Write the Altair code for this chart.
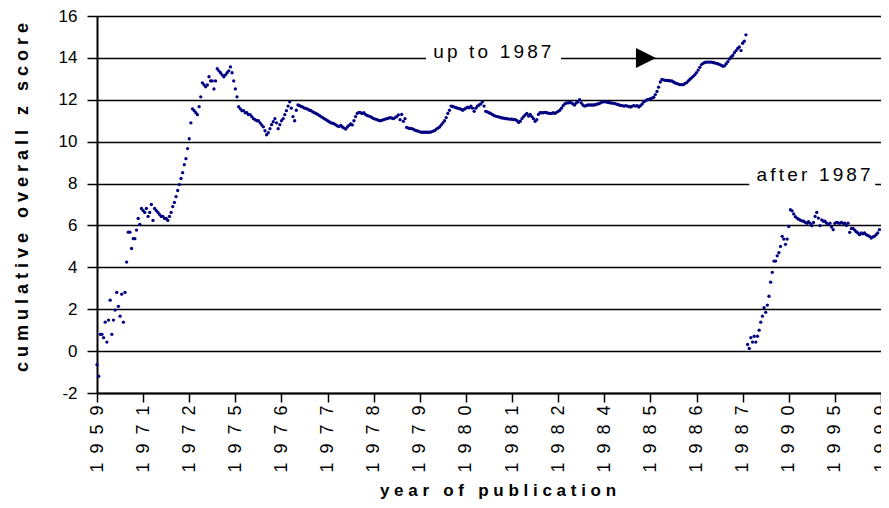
import altair as alt
import pandas as pd

# ---------------- data ----------------
up_to_1987 = [
    -0.65, -1.2, 0.8, 0.8, 0.64, 1.38, 0.43, 1.48, 2.43, 0.8, 1.48, 1.96, 2.8, 2.14,
    1.67, 2.72, 1.38, 2.8, 4.25, 5.68, 5.68, 4.9, 5.37, 5.37, 5.78, 6.33, 6.05, 6.81,
    6.71, 6.62, 6.81, 6.43, 6.62, 7.0, 6.24, 6.81, 6.71, 6.62, 6.52, 6.43, 6.43, 6.33,
    6.33, 6.24, 6.43, 6.62, 6.9, 7.1, 7.38, 7.67, 7.95, 8.24, 8.52, 8.9, 9.19, 9.67,
    10.14, 10.9, 11.57, 11.48, 11.38, 11.29, 11.67, 12.14, 12.81, 12.71, 12.62, 12.71, 13.1, 12.9,
    12.9, 12.52, 12.9, 13.48, 13.38, 13.29, 13.19, 13.1, 13.19, 13.29, 13.38, 13.57, 13.29, 12.9,
    12.52, 12.14, 11.67, 11.57, 11.48, 11.48, 11.38, 11.38, 11.29, 11.29, 11.19, 11.1, 11.05, 11.0,
    11.0, 10.9, 10.8, 10.71, 10.52, 10.33, 10.43, 10.62, 10.81, 10.95, 11.1, 10.9, 10.62, 10.81,
    11.0, 11.1, 11.29, 11.48, 11.7, 11.9, 11.6, 11.2, 11.0, 11.5, 11.75, 11.72, 11.68, 11.65,
    11.6, 11.58, 11.55, 11.5, 11.48, 11.42, 11.38, 11.35, 11.3, 11.25, 11.2, 11.15, 11.1, 11.05,
    11.0, 10.95, 10.9, 10.88, 10.85, 10.8, 10.75, 10.72, 10.78, 10.7, 10.65, 10.6, 10.7, 10.78,
    10.85, 10.8, 11.0, 11.2, 11.35, 11.4, 11.38, 11.35, 11.38, 11.3, 11.25, 11.22, 11.2, 11.15,
    11.1, 11.08, 11.05, 11.02, 11.0, 11.02, 11.05, 11.08, 11.1, 11.12, 11.15, 11.12, 11.1, 11.15,
    11.2, 11.28, 11.05, 11.3, 10.97, 11.1, 10.68, 10.65, 10.63, 10.62, 10.6, 10.55, 10.52, 10.5,
    10.47, 10.45, 10.45, 10.45, 10.45, 10.45, 10.45, 10.47, 10.5, 10.53, 10.6, 10.65, 10.7, 10.8,
    10.9, 11.0, 11.15, 11.35, 11.5, 11.7, 11.68, 11.65, 11.62, 11.6, 11.58, 11.55, 11.5, 11.55,
    11.6, 11.65, 11.62, 11.7, 11.6, 11.45, 11.6, 11.7, 11.75, 11.8, 11.9, 11.7, 11.45, 11.42,
    11.38, 11.35, 11.3, 11.25, 11.22, 11.2, 11.18, 11.15, 11.13, 11.12, 11.1, 11.1, 11.08, 11.08,
    11.07, 11.05, 11.05, 11.0, 10.92, 10.98, 11.1, 11.2, 11.28, 11.35, 11.22, 11.3, 11.2, 11.1,
    10.97, 11.05, 11.3, 11.38, 11.38, 11.38, 11.4, 11.38, 11.36, 11.35, 11.35, 11.38, 11.35, 11.4,
    11.45, 11.5, 11.6, 11.72, 11.8, 11.85, 11.85, 11.88, 11.85, 11.8, 11.75, 11.85, 11.9, 12.0,
    11.85, 11.75, 11.7, 11.72, 11.75, 11.75, 11.75, 11.75, 11.75, 11.78, 11.8, 11.82, 11.86, 11.9,
    11.9, 11.9, 11.88, 11.86, 11.85, 11.84, 11.83, 11.8, 11.78, 11.75, 11.73, 11.72, 11.7, 11.72,
    11.7, 11.68, 11.65, 11.7, 11.72, 11.7, 11.72, 11.65, 11.72, 11.8, 11.9, 11.95, 12.0, 12.02,
    12.05, 12.08, 12.12, 12.25, 12.4, 12.6, 12.85, 12.97, 12.95, 12.93, 12.92, 12.92, 12.9, 12.9,
    12.85, 12.8, 12.78, 12.75, 12.72, 12.72, 12.72, 12.78, 12.82, 12.9, 12.98, 13.05, 13.12, 13.2,
    13.3, 13.42, 13.55, 13.68, 13.74, 13.78, 13.8, 13.8, 13.8, 13.8, 13.78, 13.76, 13.74, 13.72,
    13.68, 13.65, 13.6, 13.62, 13.72, 13.82, 13.95, 14.05, 14.12, 14.25, 14.35, 14.45, 14.52, 14.35,
    14.7, 14.8, 15.1,
]

after_1987 = [
    0.32, 0.13, 0.64, 0.43, 0.71, 0.43, 0.71, 1.0, 1.38, 1.67, 2.07, 1.85, 2.2, 2.62,
    3.29, 3.76, 4.3, 4.3, 4.55, 4.7, 5.0, 5.48, 5.35, 5.1, 5.35, 5.95, 6.75,
    6.7, 6.55, 6.42, 6.35, 6.3, 6.25, 6.22, 6.2, 6.15, 6.1, 6.18, 6.1, 5.99, 6.14,
    6.43, 6.62, 6.35, 5.99, 6.27, 6.2, 6.2, 6.11, 6.04, 6.11, 5.92, 5.8,
    6.1, 6.15, 6.12, 6.1, 6.15, 6.1, 6.11, 6.0, 6.11, 5.67, 5.85, 5.86, 5.78, 5.7,
    5.64, 5.56, 5.64, 5.6, 5.64, 5.56, 5.52, 5.48, 5.4, 5.45, 5.48, 5.56, 5.64, 5.8,
]

years = ["1959", "1971", "1972", "1975", "1976", "1977", "1978", "1979", "1980",
         "1981", "1982", "1984", "1985", "1986", "1987", "1990", "1995", "1999"]
per_label = 28
y_ticks = list(range(-2, 17, 2))

# ---------------- helpers ----------------
EN = "\u2002"
NB = "\u00a0"
SIX = "\u2006"


def spaced(text, gap, word_gap):
    return word_gap.join(gap.join(w) for w in text.split(" "))


x_labels = [EN.join(y) for y in years]
x_tick_values = [k * per_label for k in range(len(years))]
x_max = x_tick_values[-1]

x_label_expr = "[" + ",".join("'" + s + "'" for s in x_labels) + f"][round(datum.value/{per_label})]"

x_title = spaced("year of publication", NB, NB * 3)
y_title = spaced("cumulative overall z score", NB, NB * 3)

rows = [{"i": k, "z": v, "series": "up to 1987"} for k, v in enumerate(up_to_1987)]
start_after = len(up_to_1987)
rows += [{"i": start_after + k, "z": v, "series": "after 1987"} for k, v in enumerate(after_1987)]
df = pd.DataFrame(rows)

FONT = "Liberation Sans"
NAVY = "#000080"

xscale = alt.Scale(domain=[0, x_max], nice=False, zero=False)
yscale = alt.Scale(domain=[-2, 16], nice=False, zero=False)

x_axis = alt.Axis(
    values=x_tick_values, labelExpr=x_label_expr, labelAngle=270,
    labelFont=FONT, labelFontSize=18, labelColor="black", labelPadding=3,
    labelFlush=False, labelOverlap=False,
    tickColor="black", tickSize=9, tickWidth=1.5,
    domainColor="black", domainWidth=2, grid=False,
    title=x_title, titleFont=FONT, titleFontSize=17, titleFontWeight="bold",
    titleColor="black", titleX=400.5, titleY=102, titleAlign="center",
    titleBaseline="alphabetic",
)
y_axis = alt.Axis(
    values=y_ticks, labelExpr="'' + datum.value",
    labelFont=FONT, labelFontSize=17, labelColor="black", labelPadding=10,
    labelFlush=False, labelOverlap=False,
    tickColor="black", tickSize=10, tickWidth=1.5,
    domainColor="black", domainWidth=2,
    grid=True, gridColor="black", gridWidth=1.5, gridOpacity=1,
    title=y_title, titleFont=FONT, titleFontSize=18, titleFontWeight="bold",
    titleColor="black", titleAngle=270, titleX=-75, titleY=181,
    titleAlign="center", titleBaseline="middle",
)

points = alt.Chart(df).mark_circle(size=11, opacity=1, color=NAVY).encode(
    x=alt.X("i:Q", scale=xscale, axis=x_axis),
    y=alt.Y("z:Q", scale=yscale, axis=y_axis),
)

# annotation boxes / labels (positions in data units)
ann = pd.DataFrame([
    {"label": spaced("up to 1987", SIX, SIX + NB + SIX), "i": 240.0, "z": 14.0,
     "i_lo": 199.8, "i_hi": 281.7},
    {"label": spaced("after 1987", SIX, SIX + NB + SIX), "i": 435.1, "z": 8.0,
     "i_lo": 396.0, "i_hi": 472.5},
])
ann["z_lo"] = ann["z"] - 0.12
ann["z_hi"] = ann["z"] + 0.12

boxes = alt.Chart(ann).mark_rect(color="white").encode(
    x="i_lo:Q", x2="i_hi", y="z_lo:Q", y2="z_hi",
)
texts_up = alt.Chart(ann.iloc[[0]]).mark_text(
    font=FONT, fontSize=19, color="black", align="center", baseline="alphabetic", dy=0
).encode(x="i:Q", y="z:Q", text="label:N")
texts_after = alt.Chart(ann.iloc[[1]]).mark_text(
    font=FONT, fontSize=19, color="black", align="center", baseline="alphabetic", dy=-3
).encode(x="i:Q", y="z:Q", text="label:N")

arrow_df = pd.DataFrame([{"i": 333.3, "z": 14.0}])
arrow = alt.Chart(arrow_df).mark_point(
    shape="M-1,-1L1,0L-1,1Z", filled=True, color="black", opacity=1, size=400, strokeWidth=0
).encode(x="i:Q", y="z:Q")

chart = alt.layer(points, boxes, texts_up, texts_after, arrow).properties(
    width=784, height=377,
    autosize=alt.AutoSizeParams(type="none"),
    padding={"left": 89, "top": 8, "right": 0, "bottom": 108},
    background="white",
).configure_view(stroke=None)

chart.save("out.html", embed_options={"renderer": "svg", "actions": False})
